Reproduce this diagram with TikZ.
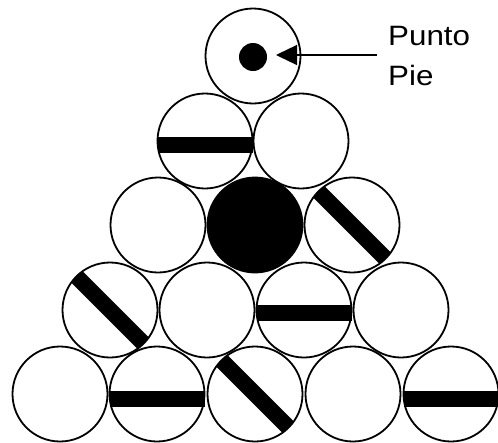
\documentclass[tikz,border=0pt]{standalone}
\usepackage{fontspec}
\newfontfamily\labfont[FakeStretch=1.12]{Liberation Sans}
\usetikzlibrary{arrows.meta}
\tikzset{
  ball/.style={circle, draw=black, line width=1.8pt, minimum size=95pt, inner sep=0pt},
  hbar/.style={fill=black, minimum width=95pt, minimum height=16pt, inner sep=0pt},
  dbar/.style={hbar, rotate=-45},
  lab/.style={inner sep=0pt, font=\labfont\fontsize{28}{34}\selectfont},
}
\begin{document}
\begin{tikzpicture}[x=1pt,y=-1pt]
\useasboundingbox (0,0) rectangle (498,442);
% row 1
\node[ball] (b11) at (253,56) {};
% row 2
\node[ball] (b21) at (205,141) {};
\node[ball] (b22) at (301,141) {};
% row 3
\node[ball] (b31) at (158,225) {};
\node[ball, fill=black] (b32) at (255,225) {};
\node[ball] (b33) at (352,225) {};
% row 4
\node[ball] (b41) at (110,310) {};
\node[ball] (b42) at (207,310) {};
\node[ball] (b43) at (304,310) {};
\node[ball] (b44) at (401,310) {};
% row 5
\node[ball] (b51) at (60,394) {};
\node[ball] (b52) at (157,394) {};
\node[ball] (b53) at (255,394) {};
\node[ball] (b54) at (353,394) {};
\node[ball] (b55) at (451,394) {};
% bars
\node[hbar] (h21) at ([yshift=-4pt]b21.center) {};
\node[dbar] (d33) at (b33.center) {};
\node[dbar] (d41) at (b41.center) {};
\node[hbar] (h43) at ([yshift=-3pt]b43.center) {};
\node[hbar] (h52) at ([yshift=-5pt]b52.center) {};
\node[dbar] (d53) at (b53.center) {};
\node[hbar] (h55) at ([yshift=-5pt]b55.center) {};
% foot spot
\node[circle, fill=black, minimum size=28pt, inner sep=0pt] (dot) at (253,57) {};
\coordinate (lead) at (377,55);
\coordinate (tip) at (276,55);
\draw[line width=1.3pt, -{Triangle[length=21pt,width=20pt]}] (lead) -- (tip);
% label
\node[lab, anchor=base west] (l1) at (388,45) {Punto};
\node[lab, anchor=base west] (l2) at (388,85) {Pie};
\end{tikzpicture}
\end{document}
